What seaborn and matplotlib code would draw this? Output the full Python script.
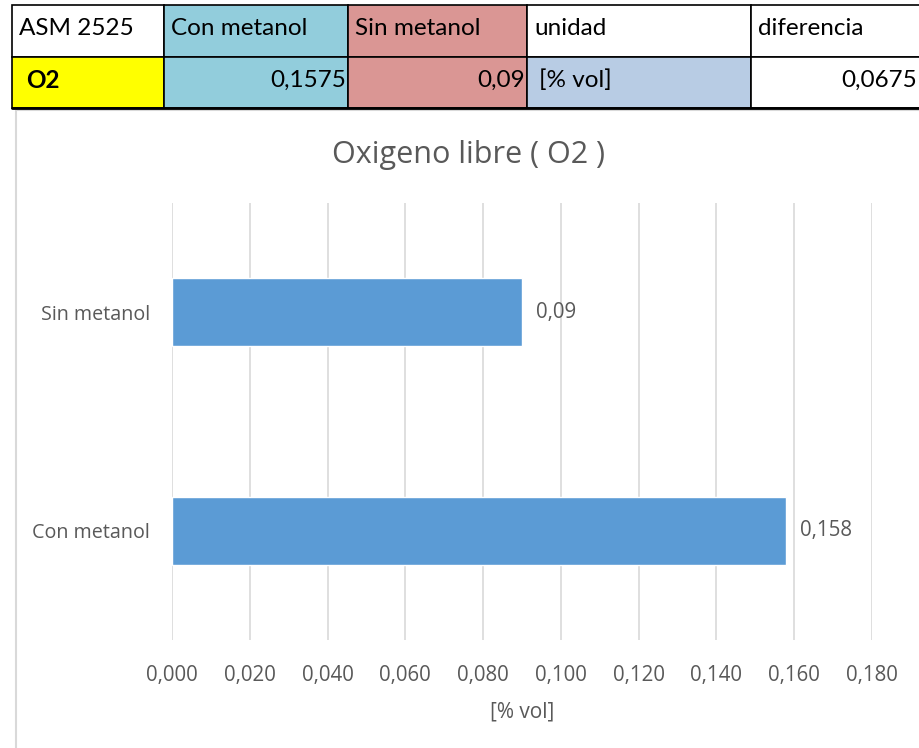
import pandas as pd
import matplotlib
matplotlib.use("Agg")
import matplotlib.pyplot as plt
import seaborn as sns
from matplotlib.patches import Rectangle

# =========================
# DATA
# =========================

categories = ["Sin metanol", "Con metanol"]
o2_values = [0.09, 0.158]
bar_labels = ["0,09", "0,158"]
x_ticks = [0.0, 0.02, 0.04, 0.06, 0.08, 0.10, 0.12, 0.14, 0.16, 0.18]
x_ticklabels = ["0,000", "0,020", "0,040", "0,060", "0,080",
                "0,100", "0,120", "0,140", "0,160", "0,180"]

table_header = ["ASM 2525", "Con metanol", "Sin metanol", "unidad", "diferencia"]
table_row = ["O2", "0,1575", "0,09", "[% vol]", "0,0675"]

df = pd.DataFrame({"muestra": categories, "O2": o2_values})

# =========================
# FIGURE
# =========================

sns.set_style("white")
plt.rcParams["font.family"] = ["Open Sans", "DejaVu Sans"]

W, H = 919, 748
fig = plt.figure(figsize=(W / 100, H / 100), dpi=100)

# chart frame (light gray) under the table
frame = fig.add_axes([0, 0, 1, 1])
frame.set_xlim(0, W)
frame.set_ylim(H, 0)
frame.axis("off")
frame.add_patch(Rectangle((16, 110), W, H, fill=False, edgecolor="#D9D9D9", lw=1.5))

# =========================
# TABLE ON TOP
# =========================

col_x = [12, 164, 348, 527, 751, 930]
row_y = [5, 57, 108]
header_colors = ["white", "#92CDDC", "#DA9694", "white", "white"]
row_colors = ["#FFFF00", "#92CDDC", "#DA9694", "#B8CCE4", "white"]
row_align = ["left", "right", "right", "left", "right"]
tfont = ["Lato", "DejaVu Sans"]

for i in range(5):
    x0, x1 = col_x[i], col_x[i + 1]
    frame.add_patch(Rectangle((x0, row_y[0]), x1 - x0, row_y[1] - row_y[0],
                              facecolor=header_colors[i], edgecolor="black", lw=1.2))
    frame.add_patch(Rectangle((x0, row_y[1]), x1 - x0, row_y[2] - row_y[1],
                              facecolor=row_colors[i], edgecolor="black", lw=1.2))
    frame.text(x0 + 7, (row_y[0] + row_y[1]) / 2 - 3, table_header[i],
               ha="left", va="center", fontsize=17.5, color="black", family=tfont)
    if row_align[i] == "left":
        tx = x0 + (14 if i == 0 else 12)
    else:
        tx = min(x1, W) - 2
    frame.text(tx, (row_y[1] + row_y[2]) / 2 - 2, table_row[i],
               ha=row_align[i], va="center", fontsize=17.5, color="black",
               family=tfont, fontweight="bold" if i == 0 else "normal")
frame.plot([12, 12, W], [108, 108, 108], color="black", lw=2)

# =========================
# BAR CHART
# =========================

ax = fig.add_axes([172 / W, 1 - 640 / H, 700 / W, 437 / H])
sns.barplot(data=df, y="muestra", x="O2", order=categories, orient="h",
            color="#5B9BD5", saturation=1, width=0.31, ax=ax)

ax.set_xlim(0, 0.18)
ax.set_ylim(1.5, -0.5)
ax.set_xticks(x_ticks)
ax.set_xticklabels(x_ticklabels)
ax.grid(axis="x", color="#D9D9D9", lw=1.2)
ax.set_axisbelow(True)
for s in ax.spines.values():
    s.set_visible(False)
ax.tick_params(axis="x", length=0, colors="#595959", labelsize=14.8, pad=18)
ax.tick_params(axis="y", length=0, colors="#595959", labelsize=14.2, pad=16)

for i, lab in enumerate(bar_labels):
    ax.text(o2_values[i] + 0.0035, i, lab, ha="left", va="center",
            fontsize=14.8, color="#595959")

ax.set_ylabel("")
ax.set_xlabel("[% vol]", fontsize=15, color="#595959", labelpad=11)
fig.text(469 / W, 1 - 155 / H, "Oxigeno libre ( O2 )", ha="center", va="center",
         fontsize=22, color="#595959")

plt.savefig("out.png", dpi=100)
